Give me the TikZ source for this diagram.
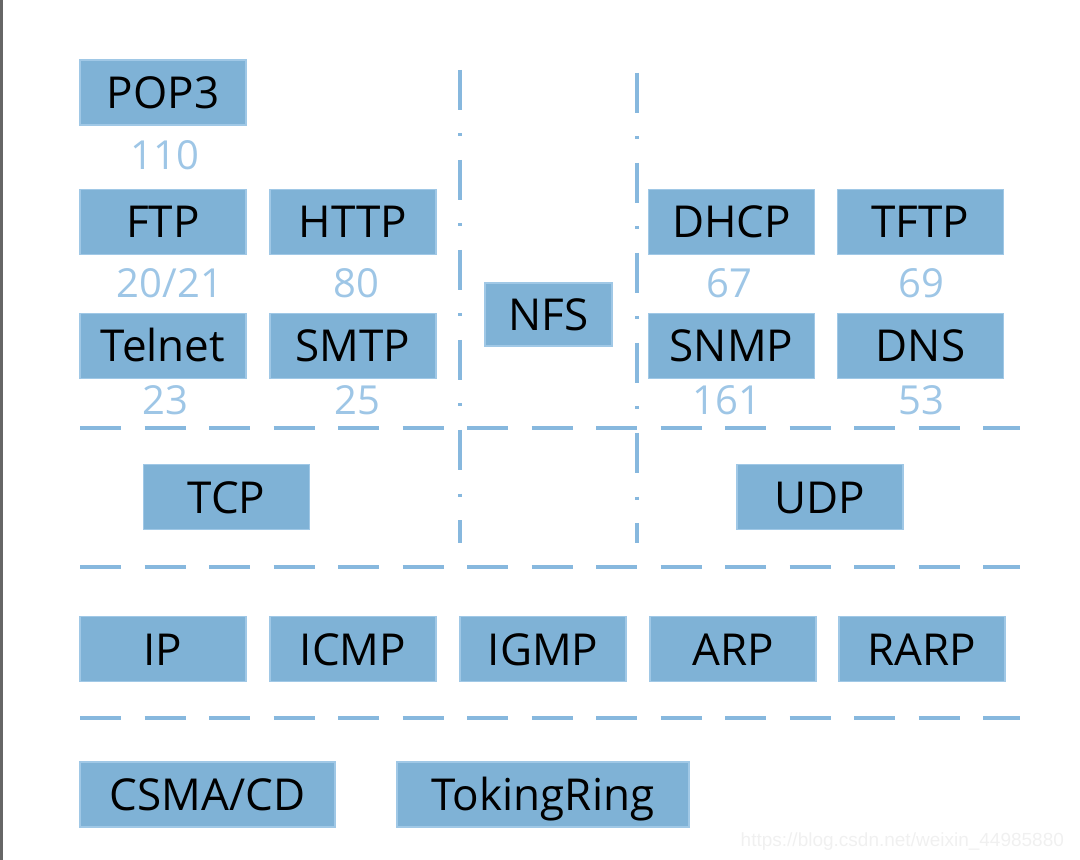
\documentclass[tikz,border=0pt]{standalone}
\usepackage{fontspec}
\setmainfont{Open Sans}
\newfontfamily\markfont{Liberation Sans}
\usetikzlibrary{positioning}
\definecolor{layerBlue}{RGB}{127,178,214}
\definecolor{layerEdge}{RGB}{160,200,230}
\definecolor{portBlue}{RGB}{158,198,230}
\definecolor{lineBlue}{RGB}{135,184,222}
\tikzset{
    stack/.style={x=0.5pt, y=-0.5pt},
    proto/.style={draw=layerEdge, line width=0.8pt, fill=layerBlue,
                  minimum width=83pt, minimum height=32.5pt,
                  inner sep=0pt, outer sep=0pt, align=center,
                  text height=16pt, text depth=0pt,
                  font=\fontsize{22}{24}\selectfont},
    port/.style={text=portBlue, inner sep=0pt,
                 font=\fontsize{20}{22}\selectfont},
    layerline/.style={draw=lineBlue, line width=2pt,
                      dash pattern=on 20.5pt off 11.75pt},
    colline/.style={draw=lineBlue, line width=2pt,
                    dash pattern=on 20pt off 11.75pt on 1.5pt off 11.75pt},
}

\begin{document}
\begin{tikzpicture}[stack]

\useasboundingbox (0,0) rectangle (1080,860);
\draw[black!60, line width=1.5pt] (1,0) -- (1,860);

% --- application layer ---
\node[proto] (pop3) at (163,92.5) {POP3};
\node[port] (p110) at (165,155) {110};

\node[proto] (ftp)  at (163,222) {FTP};
\node[proto, right=12pt of ftp] (http) {HTTP};
\node[port] (p2021) at (170,283) {20/21};
\node[port] (p80)   at (356,283) {80};

\node[proto] (telnet) at (163,346) {Telnet};
\node[proto, right=12pt of telnet] (smtp) {SMTP};
\node[port] (p23) at (165,400) {23};
\node[port] (p25) at (357,400) {25};

\node[proto, minimum width=63.5pt, minimum height=31.5pt] (nfs) at (548.5,314.5) {NFS};

\node[proto] (dhcp) at (731.5,222) {DHCP};
\node[proto, right=11.5pt of dhcp] (tftp) {TFTP};
\node[port] (p67) at (729,283) {67};
\node[port] (p69) at (921,283) {69};

\node[proto] (snmp) at (731.5,346) {SNMP};
\node[proto, right=11.5pt of snmp] (dns) {DNS};
\node[port] (p161) at (727,400) {161};
\node[port] (p53)  at (921,400) {53};

% --- transport layer ---
\node[proto] (tcp) at (226.5,497) {TCP};
\node[proto] (udp) at (820,497) {UDP};

% --- network layer ---
\node[proto] (ip) at (163,649) {IP};
\node[proto, right=12pt of ip]   (icmp) {ICMP};
\node[proto, right=12pt of icmp] (igmp) {IGMP};
\node[proto, right=12pt of igmp] (arp)  {ARP};
\node[proto, right=11.5pt of arp] (rarp) {RARP};

% --- link layer ---
\node[proto, minimum width=127.5pt] (csma) at (207.5,794.5) {CSMA/CD};
\node[proto, minimum width=146pt]   (ring) at (543,794.5) {TokingRing};

% --- separators ---
\coordinate (sepA) at (80,428);
\coordinate (sepB) at (80,567);
\coordinate (sepC) at (80,718);
\foreach \s in {sepA,sepB,sepC}
    \draw[layerline] (\s) -- ++(940,0);
\draw[colline] (460,70) -- (460,543);
\draw[colline] (637,73) -- (637,543);

\node[text=black!6, font=\markfont\fontsize{9.5}{11}\selectfont, anchor=east]
    (mark) at (1071,842) {https://blog.csdn.net/weixin\_44985880};

\end{tikzpicture}
\end{document}
